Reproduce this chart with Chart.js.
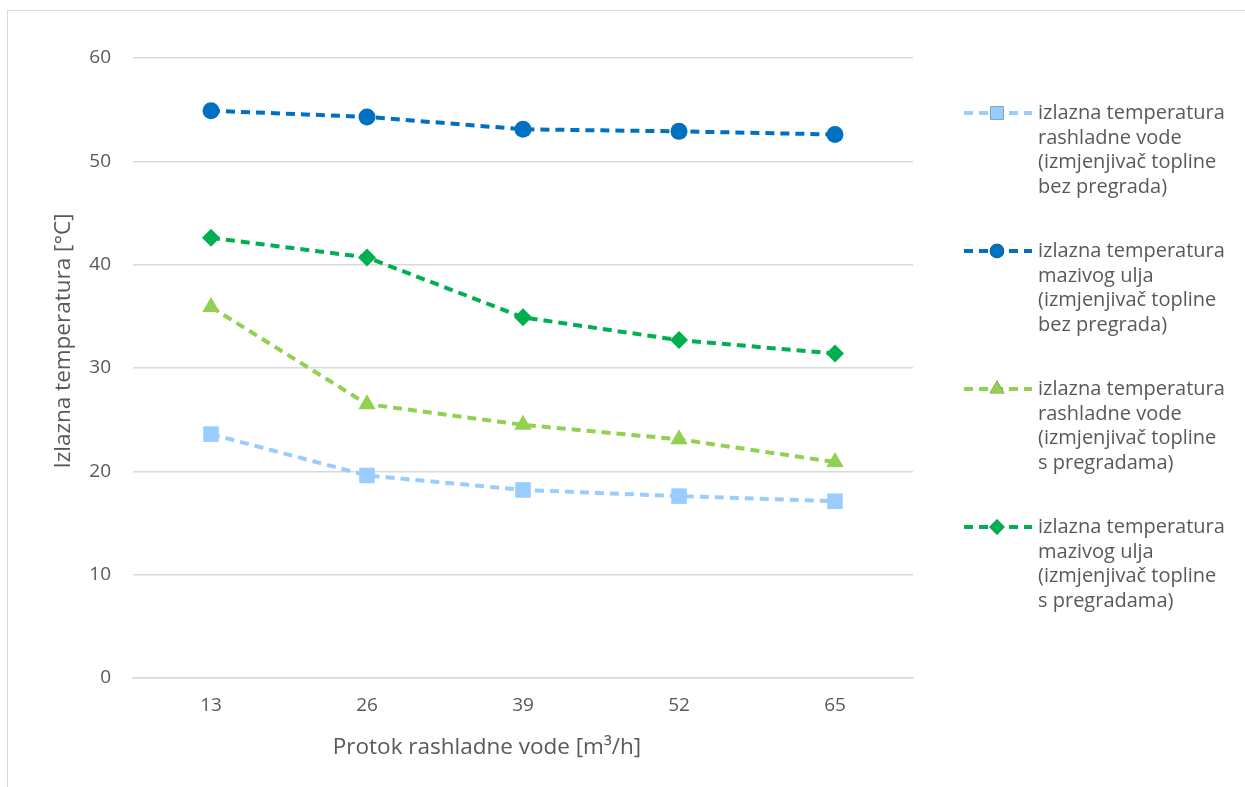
<!DOCTYPE html>
<html>
<head>
<meta charset="utf-8">
<script src="https://cdn.jsdelivr.net/npm/chart.js@4"></script>
<style>
  html, body { margin: 0; padding: 0; background: #fff; }
  #frame { position: absolute; left: 7px; top: 10px; width: 1300px; height: 800px;
           border-left: 1px solid #d9d9d9; border-top: 1px solid #d9d9d9; }
  #wrap { position: absolute; left: 0; top: 0; width: 1245px; height: 787px; }
</style>
</head>
<body>
<div id="frame"></div>
<div id="wrap"><canvas id="chart" width="1245" height="787"></canvas></div>
<script>
const flowRates = ["13", "26", "39", "52", "65"];
const waterNoBaffles = [23.6, 19.6, 18.2, 17.6, 17.1];
const oilNoBaffles = [54.9, 54.3, 53.1, 52.9, 52.6];
const waterBaffles = [35.9, 26.5, 24.5, 23.1, 20.9];
const oilBaffles = [42.6, 40.7, 34.9, 32.7, 31.4];
const yTicks = [0, 10, 20, 30, 40, 50, 60];

const legendLabels = [
  ["izlazna temperatura", "rashladne vode", "(izmjenjivač topline", "bez pregrada)"],
  ["izlazna temperatura", "mazivog ulja", "(izmjenjivač topline", "bez pregrada)"],
  ["izlazna temperatura", "rashladne vode", "(izmjenjivač topline", "s pregradama)"],
  ["izlazna temperatura", "mazivog ulja", "(izmjenjivač topline", "s pregradama)"],
];
const yTitle = "Izlazna temperatura [°C]";
const xTitle = "Protok rashladne vode [m³/h]";

const FONT = "'Open Sans', sans-serif";
const GRAY = "#595959";

function series(label, data, color, style, radius) {
  return {
    label, data,
    borderColor: color, backgroundColor: color,
    pointBackgroundColor: color, pointBorderColor: color,
    borderWidth: 4, borderDash: [9, 6],
    pointStyle: style, pointRadius: radius, pointBorderWidth: 0,
    tension: 0,
  };
}

// right-hand legend with wrapped labels, plus both axis titles (Excel puts them off-centre)
const sideLegend = {
  id: "sideLegend",
  afterDraw(chart) {
    const ctx = chart.ctx;
    chart.data.datasets.forEach((ds, i) => {
      const y0 = 113 + i * 138;
      ctx.save();
      ctx.strokeStyle = ds.borderColor;
      ctx.lineWidth = 4;
      ctx.setLineDash([9, 6]);
      ctx.beginPath();
      ctx.moveTo(964, y0);
      ctx.lineTo(1032, y0);
      ctx.stroke();
      ctx.setLineDash([]);
      Chart.helpers.drawPoint(ctx, {
        pointStyle: ds.pointStyle, radius: ds.pointRadius * 0.85, borderWidth: 0
      }, 997, y0);
      ctx.fillStyle = ds.borderColor;
      ctx.fill();
      ctx.fillStyle = GRAY;
      ctx.font = "20px " + FONT;
      ctx.textBaseline = "middle";
      legendLabels[i].forEach((t, k) => ctx.fillText(t, 1038, y0 + k * 24.8));
      ctx.restore();
    });

    ctx.save();
    ctx.fillStyle = GRAY;
    ctx.font = "22.5px " + FONT;
    ctx.textAlign = "center";
    ctx.textBaseline = "middle";
    ctx.fillText(xTitle, 487, 748);
    ctx.translate(64, 341);
    ctx.rotate(-Math.PI / 2);
    ctx.fillText(yTitle, 0, 0);
    ctx.restore();
  }
};

new Chart(document.getElementById("chart"), {
  type: "line",
  data: {
    labels: flowRates,
    datasets: [
      series("izlazna temperatura rashladne vode (izmjenjivač topline bez pregrada)", waterNoBaffles, "#99ccff", "rect", 11),
      series("izlazna temperatura mazivog ulja (izmjenjivač topline bez pregrada)", oilNoBaffles, "#0070c0", "circle", 8.5),
      series("izlazna temperatura rashladne vode (izmjenjivač topline s pregradama)", waterBaffles, "#92d050", "triangle", 10),
      series("izlazna temperatura mazivog ulja (izmjenjivač topline s pregradama)", oilBaffles, "#00b050", "rectRot", 9),
    ],
  },
  options: {
    responsive: false,
    animation: false,
    layout: { padding: { left: 0, right: 332, top: 58, bottom: 0 } },
    plugins: { legend: { display: false }, tooltip: { enabled: false } },
    scales: {
      x: {
        offset: true,
        afterFit: (axis) => { axis.height = 109; },
        grid: { display: false, drawTicks: false },
        border: { color: "#d9d9d9", width: 1.5 },
        ticks: { color: GRAY, font: { family: FONT, size: 19 }, padding: 16 },
      },
      y: {
        min: 0, max: 60,
        afterBuildTicks: (axis) => { axis.ticks = yTicks.map((v) => ({ value: v })); },
        afterFit: (axis) => { axis.width = 133; },
        grid: { color: "#d9d9d9", lineWidth: 1.5, drawTicks: false },
        border: { display: false },
        ticks: { color: GRAY, font: { family: FONT, size: 19 }, padding: 22 },
      },
    },
  },
  plugins: [sideLegend],
});
</script>
</body>
</html>
